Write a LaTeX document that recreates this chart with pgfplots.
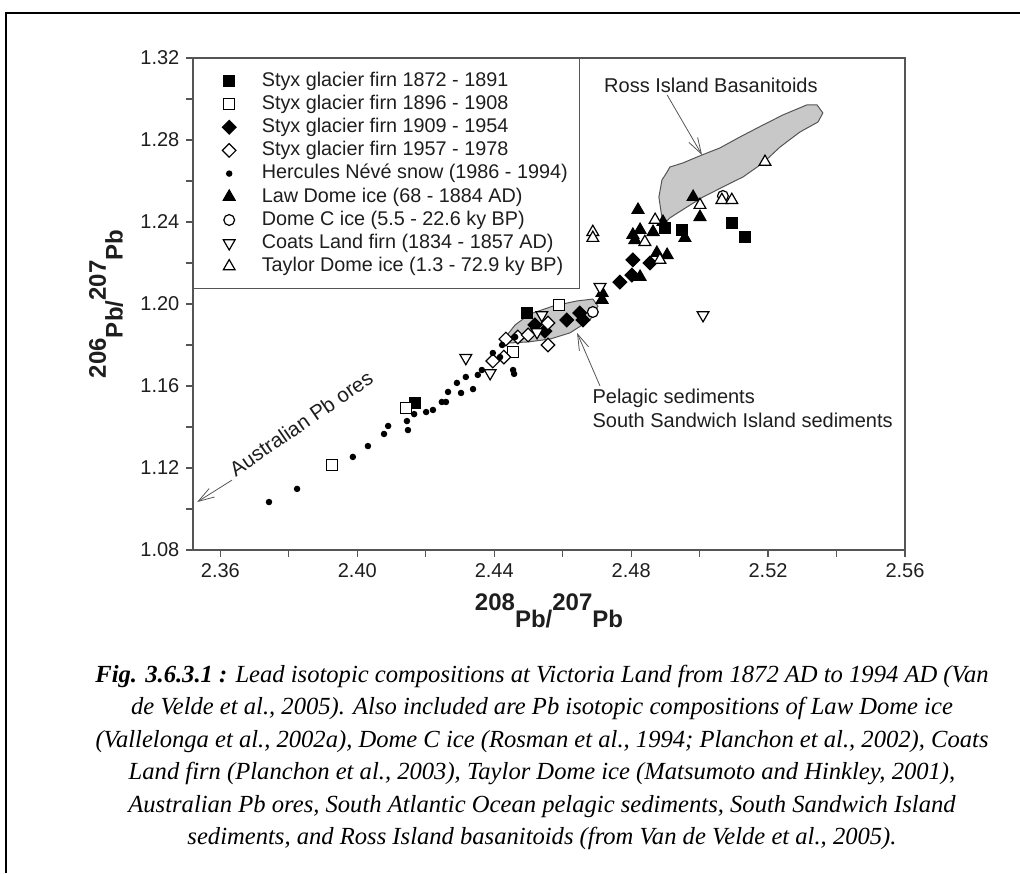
\documentclass[border=0pt]{standalone}
\usepackage{pgfplots}
\pgfplotsset{compat=1.18}
\usepackage{fontspec}
\setmainfont{Liberation Sans}
\newfontfamily\capfont{Liberation Serif}
\usetikzlibrary{arrows.meta}
\definecolor{axgray}{HTML}{555555}
\definecolor{regfill}{HTML}{C8C8C8}
\definecolor{txt}{HTML}{1E1E1E}
\pgfplotsset{
  pts/.style={only marks, line width=0.6pt,
    legend image code/.code={\path (-11.5pt,0pt) (11.5pt,0pt); \draw[##1] plot coordinates {(0pt,0pt)};}},
  sqf/.style={pts, mark=square*, mark size=2.8pt, mark options={fill=black, draw=black}},
  sqo/.style={pts, mark=square*, mark size=2.8pt, mark options={fill=white, draw=black}},
  dmf/.style={pts, mark=square*, mark size=2.4pt, mark options={rotate=45, fill=black, draw=black}},
  dmo/.style={pts, mark=square*, mark size=2.4pt, mark options={rotate=45, fill=white, draw=black}},
  dot/.style={pts, mark=*, mark size=1.3pt, mark options={fill=black, draw=black}},
  trf/.style={pts, mark=triangle*, mark size=3.4pt, mark options={fill=black, draw=black}},
  cio/.style={pts, mark=*, mark size=2.7pt, mark options={fill=white, draw=black}},
  tri/.style={pts, mark=triangle*, mark size=3.4pt, mark options={rotate=180, fill=white, draw=black}},
  tro/.style={pts, mark=triangle*, mark size=3.4pt, mark options={fill=white, draw=black}},
}
\newcommand{\iso}[2]{\textbf{\raisebox{0.7em}{#1}Pb/\raisebox{0.7em}{#2}Pb}}
\begin{document}
\begin{tikzpicture}
\path[use as bounding box] (0pt,0pt) rectangle (510pt,436.5pt);
\draw[line width=1.2pt, black] (3pt,0pt) -- (3pt,430pt) -- (510pt,430pt);
\begin{axis}[
  at={(96.5pt,161.5pt)}, anchor=south west,
  scale only axis, width=356pt, height=246pt,
  xmin=2.352, xmax=2.56, ymin=1.08, ymax=1.32,
  xtick={2.36,2.40,2.44,2.48,2.52,2.56},
  ytick={1.08,1.12,1.16,1.20,1.24,1.28,1.32},
  minor x tick num=1, minor y tick num=1,
  xtick pos=bottom, ytick pos=left, tick align=outside,
  major tick length=3.3pt, minor tick length=3.3pt,
  axis line style={axgray, line width=0.6pt},
  every tick/.style={axgray, line width=0.6pt},
  ticklabel style={font=\fontsize{10}{12}\selectfont, text=txt},
  xticklabel style={/pgf/number format/.cd, fixed, fixed zerofill, precision=2, assume math mode=true},
  yticklabel style={/pgf/number format/.cd, fixed, fixed zerofill, precision=2, assume math mode=true},
  xlabel={\iso{208}{207}},
  ylabel={\iso{206}{207}},
  label style={font=\fontsize{12}{14}\selectfont, text=txt},
  xlabel style={at={(axis description cs:0.5,-0.124)}, anchor=center},
  ylabel style={at={(axis description cs:-0.122,0.5)}, anchor=center},
  legend style={at={(0,1)}, anchor=north west, draw=axgray, line width=0.6pt, fill=white,
    inner xsep=6pt, inner ysep=5.3pt, row sep=0pt,
    font=\fontsize{9.9}{11.6}\selectfont, text=txt,
    nodes={inner xsep=0pt, inner ysep=1pt, text height=7.5pt, text depth=2.1pt, anchor=west},
    /tikz/every odd column/.append style={column sep=4.5pt}},
  legend cell align=left,
]
% Ross Island Basanitoids field
\addplot[forget plot, fill=regfill, draw=axgray, line width=0.5pt] coordinates {
 (2.4893,1.2385) (2.4881,1.2522) (2.4890,1.2605) (2.4905,1.2644) (2.4913,1.2668)
 (2.4951,1.2688) (2.5007,1.2727) (2.5059,1.2761) (2.5118,1.2815) (2.5185,1.2873)
 (2.5243,1.2922) (2.5313,1.2971) (2.5343,1.2971) (2.5360,1.2932) (2.5346,1.2888)
 (2.5293,1.2839) (2.5235,1.2766) (2.5185,1.2688) (2.5127,1.2620) (2.5068,1.2571)
 (2.5010,1.2522) (2.4963,1.2473) (2.4913,1.2420) (2.4893,1.2385)};
% Pelagic / South Sandwich sediments field
\addplot[forget plot, fill=regfill, draw=axgray, line width=0.5pt] coordinates {
 (2.4426,1.1824) (2.4461,1.1898) (2.4504,1.1951) (2.4572,1.1990) (2.4642,1.2015)
 (2.4688,1.2024) (2.4703,1.1990) (2.4680,1.1922) (2.4621,1.1859) (2.4563,1.1829)
 (2.4499,1.1815) (2.4446,1.1810) (2.4426,1.1824)};

\addplot[sqf] coordinates {(2.4168,1.1517) (2.4496,1.1956) (2.4899,1.2371) (2.4948,1.2361) (2.5094,1.2395) (2.5132,1.2327)};
\addlegendentry{Styx glacier firn 1872 - 1891}
\addplot[sqo] coordinates {(2.3926,1.1215) (2.4142,1.1493) (2.4455,1.1766) (2.4589,1.1995)};
\addlegendentry{Styx glacier firn 1896 - 1908}
\addplot[dmf] coordinates {(2.4519,1.1898) (2.4548,1.1868) (2.4612,1.1922) (2.4650,1.1956) (2.4659,1.1922) (2.4767,1.2107) (2.4802,1.2141) (2.4805,1.2215) (2.4855,1.2200)};
\addlegendentry{Styx glacier firn 1909 - 1954}
\addplot[dmo] coordinates {(2.4396,1.1722) (2.4428,1.1741) (2.4434,1.1829) (2.4469,1.1839) (2.4499,1.1849) (2.4557,1.1800) (2.4557,1.1907)};
\addlegendentry{Styx glacier firn 1957 - 1978}
\addplot[dot] coordinates {(2.3742,1.1034) (2.3824,1.1098) (2.3987,1.1254) (2.4031,1.1307) (2.4078,1.1366) (2.4090,1.1405) (2.4145,1.1429) (2.4148,1.1385) (2.4166,1.1463) (2.4201,1.1473) (2.4221,1.1483) (2.4247,1.1522) (2.4259,1.1522) (2.4265,1.1571) (2.4303,1.1566) (2.4291,1.1615) (2.4317,1.1644) (2.4338,1.1585) (2.4352,1.1654) (2.4364,1.1678) (2.4396,1.1761) (2.4423,1.1800) (2.4417,1.1741) (2.4455,1.1678) (2.4458,1.1659) (2.4461,1.1839)};
\addlegendentry{Hercules Névé snow (1986 - 1994)}
\addplot[trf] coordinates {(2.4715,1.2054) (2.4715,1.2020) (2.4820,1.2459) (2.4981,1.2522) (2.5001,1.2424) (2.4805,1.2337) (2.4826,1.2361) (2.4811,1.2312) (2.4864,1.2351) (2.4893,1.2400) (2.4957,1.2322) (2.4875,1.2249) (2.4905,1.2239) (2.4826,1.2132)};
\addlegendentry{Law Dome ice (68 - 1884 AD)}
\addplot[cio] coordinates {(2.4688,1.1961) (2.5068,1.2527)};
\addlegendentry{Dome C ice (5.5 - 22.6 ky BP)}
\addplot[tri] coordinates {(2.4317,1.1737) (2.4388,1.1663) (2.4539,1.1946) (2.4525,1.1863) (2.4709,1.2083) (2.5010,1.1946)};
\addlegendentry{Coats Land firn (1834 - 1857 AD)}
\addplot[tro] coordinates {(2.4688,1.2351) (2.4688,1.2322) (2.4870,1.2410) (2.4840,1.2302) (2.5001,1.2483) (2.4884,1.2215) (2.5065,1.2507) (2.5094,1.2507) (2.5191,1.2693)};
\addlegendentry{Taylor Dome ice (1.3 - 72.9 ky BP)}

% annotations
\node[font=\fontsize{10}{12}\selectfont, text=txt] at (axis cs:2.5033,1.3068) {Ross Island Basanitoids};
\draw[axgray, line width=0.4pt, -{Straight Barb[length=8pt,width=5pt]}] (axis cs:2.4905,1.3020) -- (axis cs:2.5007,1.2727);
\node[font=\fontsize{10}{12}\selectfont, text=txt, anchor=west, inner sep=0pt] at (axis cs:2.4686,1.1541) {Pelagic sediments};
\node[font=\fontsize{10}{12}\selectfont, text=txt, anchor=west, inner sep=0pt] at (axis cs:2.4686,1.1434) {South Sandwich Island sediments};
\draw[axgray, line width=0.4pt, -{Straight Barb[length=8pt,width=5pt]}] (axis cs:2.4709,1.1600) -- (axis cs:2.4642,1.1859);
\node[font=\fontsize{10.3}{12}\selectfont, text=txt, rotate=34.5] at (axis cs:2.3836,1.1418) {Australian Pb ores};
\draw[axgray, line width=0.4pt, -{Straight Barb[length=8pt,width=5pt]}] (axis cs:2.3634,1.1141) -- (axis cs:2.3532,1.1034);
\end{axis}
\begin{scope}[font=\capfont\itshape\fontsize{12.3}{14}\selectfont]
\node[anchor=base, inner sep=0pt] at (271pt,95.25pt) {\textbf{Fig. 3.6.3.1 :} Lead isotopic compositions at Victoria Land from 1872 AD to 1994 AD (Van};
\node[anchor=base, inner sep=0pt] at (271pt,79.05pt) {de Velde et al., 2005). Also included are Pb isotopic compositions of Law Dome ice};
\node[anchor=base, inner sep=0pt] at (271pt,62.85pt) {(Vallelonga et al., 2002a), Dome C ice (Rosman et al., 1994; Planchon et al., 2002), Coats};
\node[anchor=base, inner sep=0pt] at (271pt,46.65pt) {Land firn (Planchon et al., 2003), Taylor Dome ice (Matsumoto and Hinkley, 2001),};
\node[anchor=base, inner sep=0pt] at (271pt,30.45pt) {Australian Pb ores, South Atlantic Ocean pelagic sediments, South Sandwich Island};
\node[anchor=base, inner sep=0pt] at (271pt,14.25pt) {sediments, and Ross Island basanitoids (from Van de Velde et al., 2005).};
\end{scope}
\end{tikzpicture}
\end{document}
